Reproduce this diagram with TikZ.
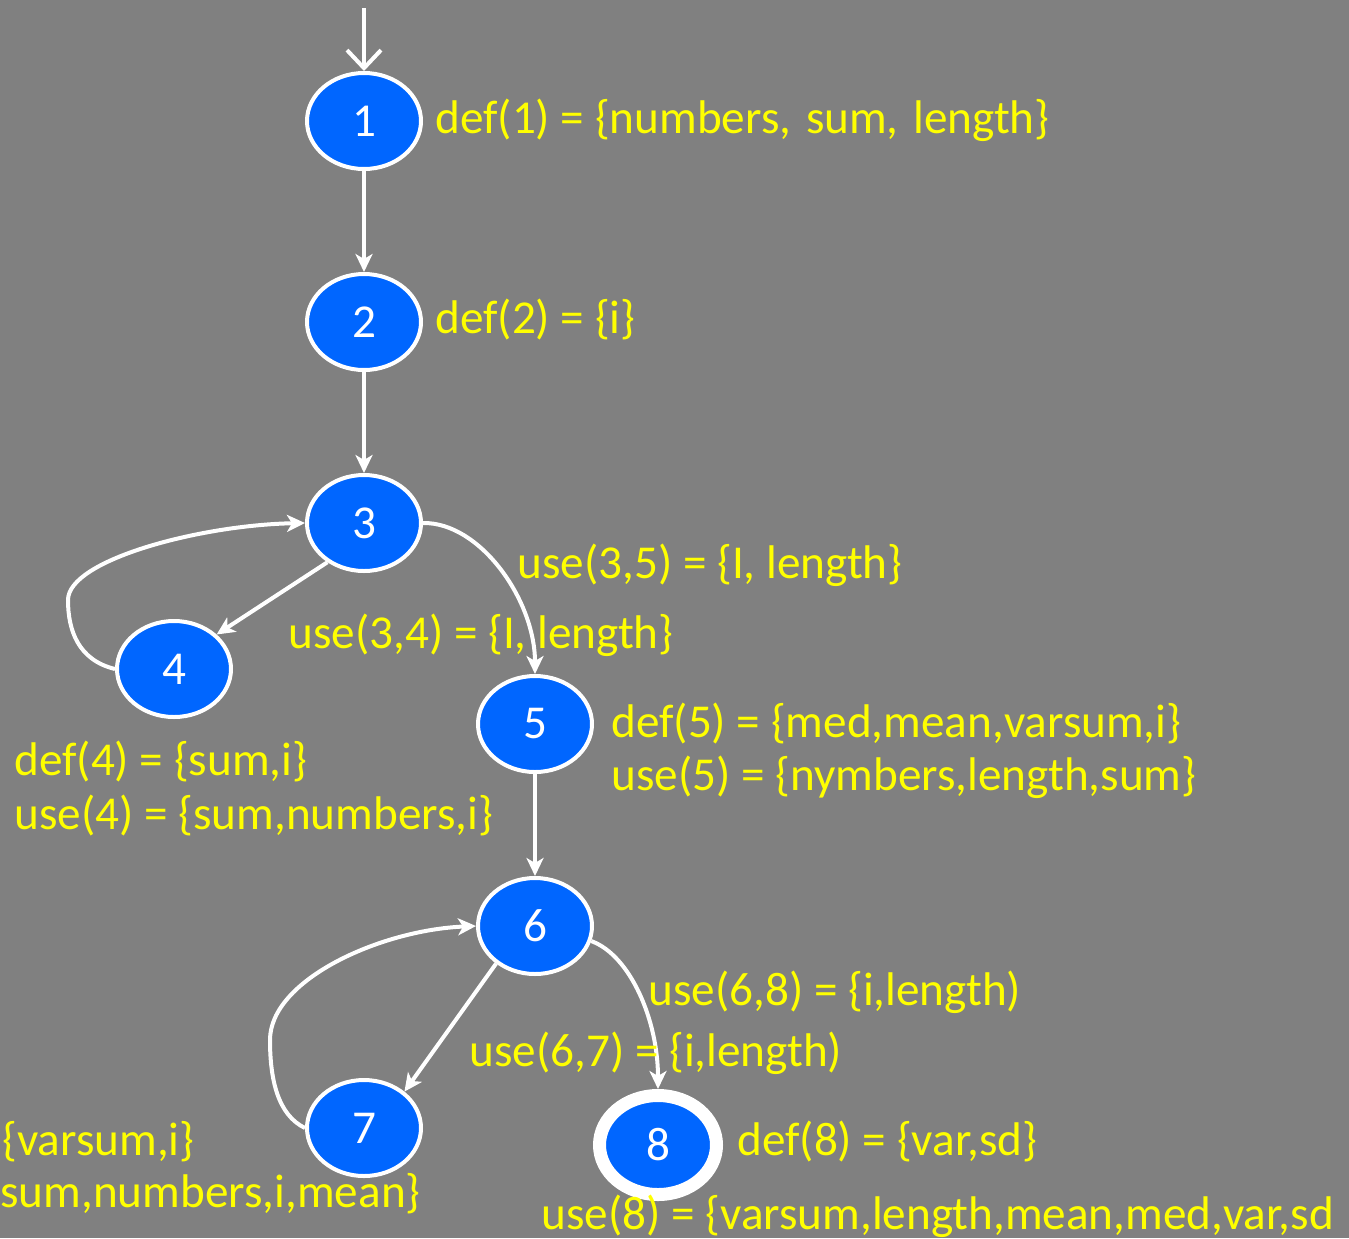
\documentclass[tikz,border=0pt]{standalone}
\usepackage{fontspec}
\setmainfont{Carlito}
\usetikzlibrary{arrows.meta,shapes.geometric}
\definecolor{bg}{HTML}{808080}
\definecolor{nodeblue}{HTML}{0066FF}
\definecolor{labyellow}{HTML}{FFFF00}
\tikzset{
  vertex/.style={ellipse, fill=nodeblue, draw=white, line width=2pt, text=white,
    minimum width=57pt, minimum height=48pt, inner sep=0pt, font=\fontsize{23.6}{28}\selectfont},
  finalvertex/.style={vertex, line width=6.5pt, minimum width=58.5pt, minimum height=49.5pt},
  lab/.style={anchor=base west, inner sep=0pt, text=labyellow, font=\fontsize{23.6}{28}\selectfont},
  edge/.style={draw=white, line width=2pt, -{Stealth[length=9pt,width=8.5pt,inset=2.5pt]}},
  entry/.style={draw=white, line width=2pt, -{Straight Barb[length=9pt,width=17pt,line width=2pt]}}
}
\begin{document}
\begin{tikzpicture}[x=0.5pt,y=-0.5pt]
\fill[bg] (0,0) rectangle (1349,1238);
\useasboundingbox (0,0) rectangle (1349,1238);

\node[vertex] (n1) at (364,121) {1};
\node[vertex] (n2) at (364,322) {2};
\node[vertex] (n3) at (364,523) {3};
\node[vertex] (n4) at (174,669) {4};
\node[vertex] (n5) at (535,724) {5};
\node[vertex] (n6) at (535,926) {6};
\node[vertex] (n7) at (364,1128) {7};
\node[finalvertex] (n8) at (658,1145) {8};

\coordinate (start) at (364,8);

\draw[entry] (start) -- (n1.north);
\draw[edge] (n1) -- (n2);
\draw[edge] (n2) -- (n3);
\draw[edge] (n3.-133) -- (n4.39);
\draw[edge] (n4.west) .. controls (78,660) and (68,630) .. (68,600)
  .. controls (68,560) and (200,525) .. (n3.west);
\draw[edge] (n3.east) .. controls (480,522) and (535,600) .. (n5.north);
\draw[edge] (n5) -- (n6);
\draw[edge] (n6.-136) -- (n7.42);
\draw[edge] (n7.west) .. controls (278,1115) and (270,1080) .. (270,1040)
  .. controls (270,980) and (380,930) .. (n6.west);
\draw[edge] (n6.-15) .. controls (630,955) and (658,1020) .. (n8.north);

\node[lab] (l1) at (435,133) {def(1) = \{numbers,\hspace{2pt} sum,\hspace{2pt} length\}};
\node[lab] (l2) at (435,333) {def(2) = \{i\}};
\node[lab] (l35) at (517,578) {use(3,5) = \{I, length\}};
\node[lab] (l34) at (288,648) {use(3,4) = \{I, length\}};
\node[lab] (l5a) at (611,737) {def(5) = \{med,mean,varsum,i\}};
\node[lab] (l5b) at (611,790) {use(5) = \{nymbers,length,sum\}};
\node[lab] (l4a) at (14,775) {def(4) = \{sum,i\}};
\node[lab] (l4b) at (14,829) {use(4) = \{sum,numbers,i\}};
\node[lab] (l68) at (648,1005) {use(6,8) = \{i,length)};
\node[lab] (l67) at (469,1066) {use(6,7) = \{i,length)};
\node[lab] (l7a) at (2,1155) {\{varsum,i\}};
\node[lab] (l7b) at (0,1207) {sum,numbers,i,mean\}};
\node[lab] (l8a) at (737,1155) {def(8) = \{var,sd\}};
\node[lab] (l8b) at (541,1229) {use(8) = \{varsum,length,mean,med,var,sd};
\end{tikzpicture}
\end{document}
